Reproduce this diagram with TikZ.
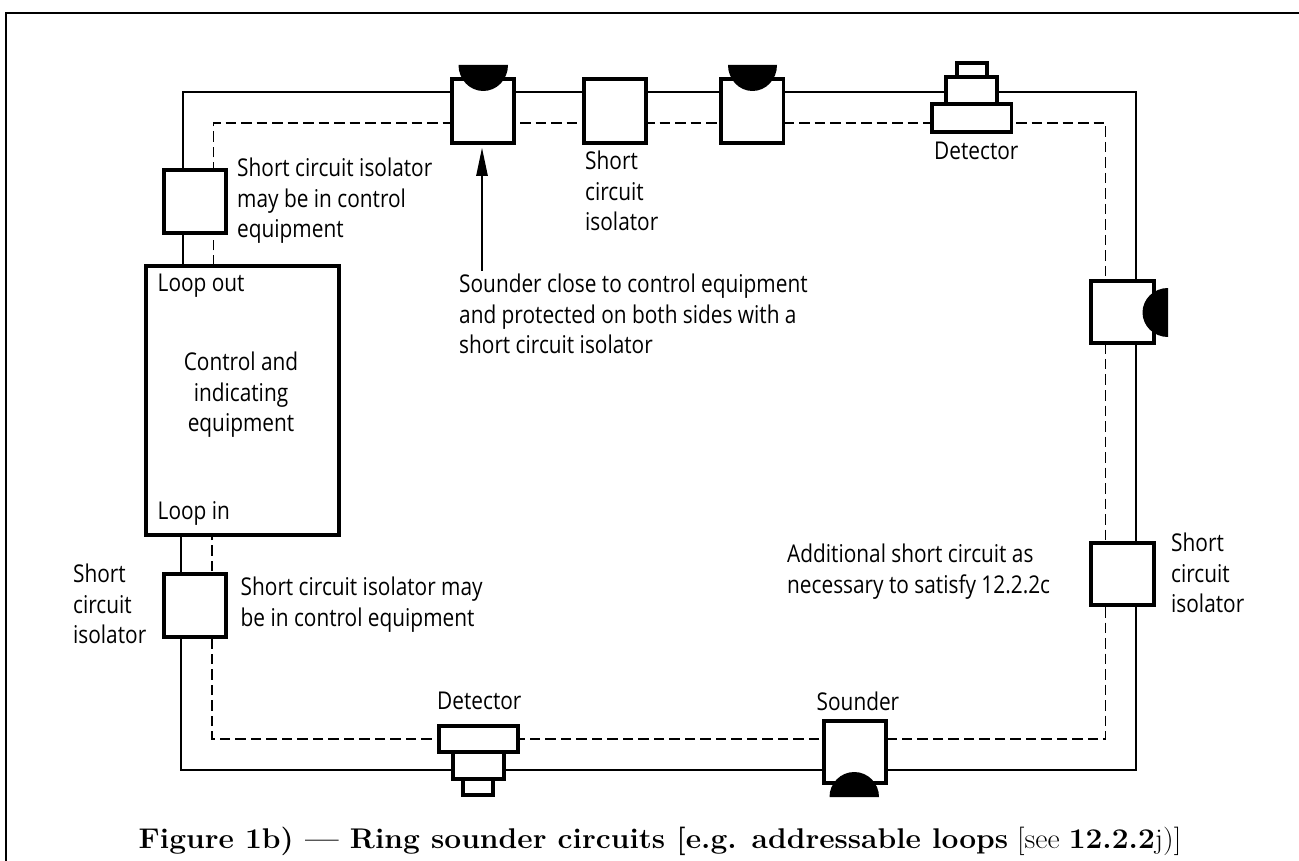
\documentclass[tikz,border=0pt]{standalone}
\usepackage{fontspec}
\usepackage{graphicx}
\newfontfamily\din[FakeStretch=0.85]{Open Sans}
\usetikzlibrary{arrows.meta}
\tikzset{x=1pt,y=-1pt,
  boxed/.style={draw=black,line width=3.2pt,fill=white},
  wire/.style={draw=black,line width=1.2pt},
  dash wire/.style={draw=black,line width=1.2pt,dash pattern=on 10.5pt off 5pt},
  lbl/.style={font=\din\fontsize{24.5}{30.5}\selectfont,align=left,anchor=north west,inner sep=0pt,text=black},
  lblc/.style={lbl,align=center,anchor=north},
  horn/.style={fill=black,draw=none},
  arrowline/.style={draw=black,line width=1.2pt,-{Stealth[length=28pt,width=11.5pt,inset=0pt]}}
}
\begin{document}
\begin{tikzpicture}
\useasboundingbox (0,0) rectangle (1299,861);
\draw[line width=2.2pt] (6,861) -- (6,13) -- (1299,13);
% wires
\coordinate (sTL) at (183,92); \coordinate (sTR) at (1136,92);
\coordinate (sBR) at (1136,770); \coordinate (sBL) at (181,770);
\coordinate (dTL) at (213.5,123); \coordinate (dTR) at (1105.5,123);
\coordinate (dBR) at (1105.5,739); \coordinate (dBL) at (212,739);
\coordinate (eT1) at (183,266); \coordinate (eT2) at (213.5,266);
\coordinate (eB1) at (181,535); \coordinate (eB2) at (212,535);
\draw[wire] (eT1) -- (sTL) -- (sTR) -- (sBR) -- (sBL) -- (eB1);
\draw[dash wire] (eT2) -- (dTL) -- (dTR) -- (dBR) -- (dBL) -- (eB2);
% boxes
\path[boxed] (164,170) rectangle (226,233) node[pos=.5] (iso1) {};
\path[boxed] (146,266) rectangle (339,535) node[pos=.5] (cie) {};
\path[boxed] (164,574) rectangle (226,637) node[pos=.5] (iso2) {};
\path[boxed] (452,79) rectangle (514,143) node[pos=.5] (snd1) {};
\path[boxed] (584,79) rectangle (646,143) node[pos=.5] (iso3) {};
\path[boxed] (721,79) rectangle (783.5,143) node[pos=.5] (snd2) {};
\path[boxed] (1091,281) rectangle (1154,343) node[pos=.5] (snd3) {};
\path[boxed] (1091,543) rectangle (1154,605) node[pos=.5] (iso4) {};
\path[boxed] (824,721) rectangle (886,783) node[pos=.5] (snd4) {};
% sounder horns
\fill[horn] (458.5,65) -- (508,65) arc[start angle=0,end angle=180,x radius=24.75,y radius=26] -- cycle;
\fill[horn] (728,65) -- (777,65) arc[start angle=0,end angle=180,x radius=24.5,y radius=26] -- cycle;
\fill[horn] (1168,337) arc[start angle=90,end angle=270,x radius=25.5,y radius=24.5] -- cycle;
\fill[horn] (879,797) arc[start angle=0,end angle=180,x radius=24.75,y radius=-25] -- cycle;
% detectors
\path[boxed] (957,63) rectangle (987,77);
\path[boxed] (946,77) rectangle (997,104);
\path[boxed] (932,104) rectangle (1011.5,132) node[pos=.5] (det1) {};
\path[boxed] (439,726) rectangle (518,752) node[pos=.5] (det2) {};
\path[boxed] (453,752) rectangle (504,779);
\path[boxed] (463,779) rectangle (493,795);
% arrow
\coordinate (arS) at (482,271); \coordinate (arE) at (482,148);
\draw[arrowline] (arS) -- (arE);
% labels
\node[lbl] (t1) at (237,158) {Short circuit isolator\\may be in control\\equipment};
\node[lbl] (t2) at (585,151) {Short\\circuit\\isolator};
\node[lbl] (t3) at (459,274) {Sounder close to control equipment\\and protected on both sides with a\\short circuit isolator};
\node[lbl] (t4) at (157.5,274) {Loop out};
\node[lblc] (t5) at (241,352) {Control and\\indicating\\equipment};
\node[lbl] (t6) at (157.5,501) {Loop in};
\node[lbl] (t7) at (73,564) {Short\\circuit\\isolator};
\node[lbl] (t8) at (240.5,577) {Short circuit isolator may\\be in control equipment};
\node[lbl] (t9) at (437,692) {Detector};
\node[lbl] (t10) at (816.5,692) {Sounder};
\node[lbl] (t11) at (787,544) {Additional short circuit as\\necessary to satisfy 12.2.2c};
\node[lbl] (t12) at (1171,533) {Short\\circuit\\isolator};
\node[lbl] (t13) at (934,142) {Detector};
\node[inner sep=0pt,anchor=base,font=\fontsize{28.5}{32}\selectfont] (cap) at (660,848) {\scalebox{1.05}[1]{\textbf{Figure 1b) --- Ring sounder circuits [e.g. addressable loops} [see \textbf{12.2.2}j)]}};
\end{tikzpicture}
\end{document}
